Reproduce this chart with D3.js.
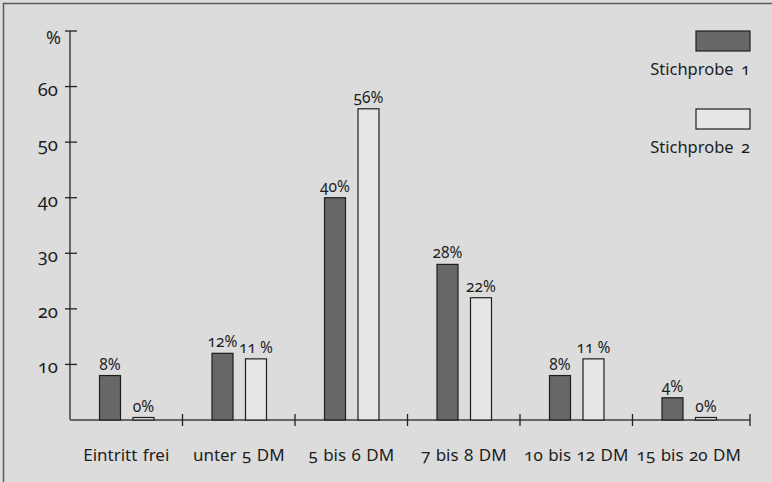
<!DOCTYPE html>
<html>
<head>
<meta charset="utf-8">
<script src="https://cdn.jsdelivr.net/npm/d3@7"></script>
<style>
  html, body { margin: 0; padding: 0; background: #dcdcdc; }
  svg { display: block; }
  text { font-family: "Noto Sans", "Open Sans", sans-serif; fill: #1e1e1e; font-variant-numeric: oldstyle-nums; font-feature-settings: "onum" 1; }
</style>
</head>
<body>
<svg id="chart" width="772" height="482"></svg>
<script>
// Eintrittspreise: Anteil der Befragten je Preisklasse
const categories = ["Eintritt frei", "unter 5 DM", "5 bis 6 DM", "7 bis 8 DM", "10 bis 12 DM", "15 bis 20 DM"];
const stichprobe1 = [8, 12, 40, 28, 8, 4];
const stichprobe2 = [0, 11, 56, 22, 11, 0];
const seriesNames = ["Stichprobe 1", "Stichprobe 2"];
const yTicks = [10, 20, 30, 40, 50, 60];
const yMax = 70;

const colors = ["#676767", "#e6e6e6"];

const svg = d3.select("#chart");
const W = 772, H = 482;

// frame
svg.append("rect")
  .attr("x", 3.5).attr("y", 3.5)
  .attr("width", W + 10).attr("height", H + 10)
  .attr("fill", "#dcdcdc")
  .attr("stroke", "#5a5a5a").attr("stroke-width", 1.5);

const x0 = d3.scaleBand().domain(categories).range([70, 745]).paddingInner(0).paddingOuter(0);
const x1 = d3.scaleBand().domain([0, 1]).range([29.5, 84]).paddingInner(0.373);
const y = d3.scaleLinear().domain([0, yMax]).range([420, 31]);
const axisEnd = 750;

const pct = v => (v === 11 ? "11 %" : v + "%");

// axes lines
svg.append("line")
  .attr("x1", x0.range()[0]).attr("x2", x0.range()[0])
  .attr("y1", y(yMax)).attr("y2", y(0))
  .attr("stroke", "#666").attr("stroke-width", 2);
svg.append("line")
  .attr("x1", x0.range()[0]).attr("x2", axisEnd)
  .attr("y1", y(0)).attr("y2", y(0))
  .attr("stroke", "#666").attr("stroke-width", 2);

// y ticks
const yt = svg.append("g");
yt.selectAll("line").data(yTicks.concat([yMax])).join("line")
  .attr("x1", 65).attr("x2", 77)
  .attr("y1", d => y(d)).attr("y2", d => y(d))
  .attr("stroke", "#222").attr("stroke-width", 1.3);
yt.selectAll("text").data(yTicks).join("text")
  .attr("x", 58).attr("y", d => y(d) + 9)
  .attr("text-anchor", "end")
  .attr("font-size", 18.5)
  .text(d => d);
svg.append("text")
  .attr("x", 61).attr("y", y(yMax) + 13)
  .attr("text-anchor", "end")
  .attr("font-size", 18)
  .text("%");

// x ticks at category boundaries and axis end
const xTickPos = categories.slice(1).map(c => x0(c)).concat([axisEnd]);
svg.append("g").selectAll("line").data(xTickPos).join("line")
  .attr("x1", d => d).attr("x2", d => d)
  .attr("y1", y(0) - 6).attr("y2", y(0) + 6)
  .attr("stroke", "#222").attr("stroke-width", 1.3);

// category labels
svg.append("g").selectAll("text").data(categories).join("text")
  .attr("x", d => x0(d) + x0.bandwidth() / 2)
  .attr("y", 461)
  .attr("text-anchor", "middle")
  .attr("font-size", 17)
  .attr("word-spacing", 1)
  .text(d => d);

// bars
const rows = categories.map((c, i) => ({ c, vals: [stichprobe1[i], stichprobe2[i]] }));
const groups = svg.append("g").selectAll("g").data(rows).join("g")
  .attr("transform", d => `translate(${x0(d.c)},0)`);

groups.selectAll("rect").data(d => d.vals.map((v, k) => ({ v, k }))).join("rect")
  .attr("x", d => x1(d.k))
  .attr("width", x1.bandwidth())
  .attr("y", d => Math.min(y(d.v), y(0) - 2.5))
  .attr("height", d => Math.max(y(0) - y(d.v), 2.5))
  .attr("fill", d => colors[d.k])
  .attr("stroke", "#1e1e1e").attr("stroke-width", 1.2);

groups.selectAll("text").data(d => d.vals.map((v, k) => ({ v, k }))).join("text")
  .attr("x", d => x1(d.k) + x1.bandwidth() / 2)
  .attr("y", d => Math.min(y(d.v), y(0) - 2.5) - 6)
  .attr("text-anchor", "middle")
  .attr("font-size", 15.5)
  .text(d => pct(d.v));

// legend
const legend = svg.append("g");
seriesNames.forEach((name, k) => {
  const top = 31 + k * 78;
  legend.append("rect")
    .attr("x", 696).attr("y", top)
    .attr("width", 54).attr("height", 20)
    .attr("fill", colors[k])
    .attr("stroke", "#1e1e1e").attr("stroke-width", 1.2);
  legend.append("text")
    .attr("x", 750).attr("y", top + 44)
    .attr("text-anchor", "end")
    .attr("font-size", 16.5)
    .attr("word-spacing", 3)
    .text(name);
});
</script>
</body>
</html>
